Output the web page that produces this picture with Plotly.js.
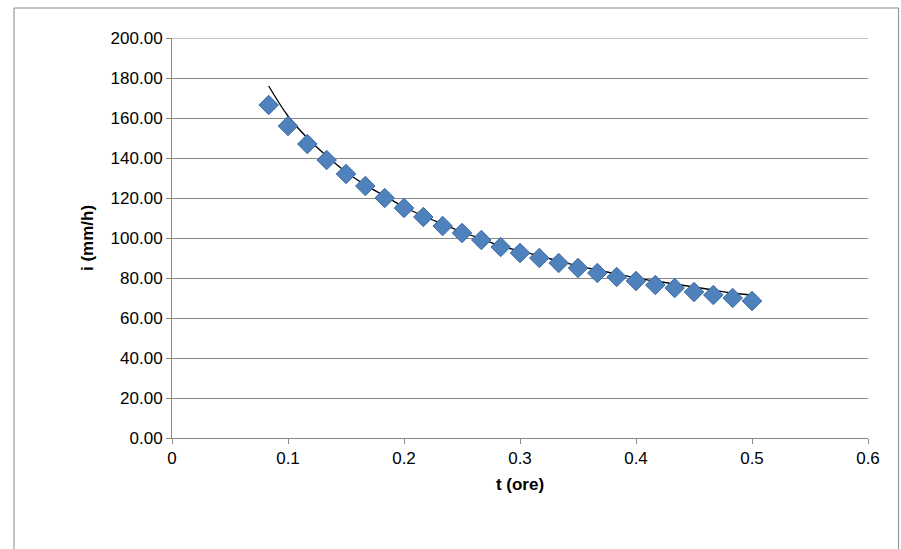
<!DOCTYPE html>
<html>
<head>
<script src="https://cdn.plot.ly/plotly-3.0.1.min.js"></script>
<style>body{margin:0;} #chart{width:901px;height:549px;}</style>
</head>
<body>
<div id="chart"></div>
<script>
// t in hours (5..30 minutes), intensity in mm/h
var tOre = [5,6,7,8,9,10,11,12,13,14,15,16,17,18,19,20,21,22,23,24,25,26,27,28,29,30].map(function(m){ return m / 60; });
var intensity = [166.5,156,147,139,132,126,120,115,110.5,106,102.5,99,95.5,92.5,90,87.5,85,82.5,80.5,78.5,76.5,75,73,71.5,70,68.5];
var trend = [176,161,150,141,133,126.5,121,115.5,111,107,103,99.5,96,93.5,91,88.5,86,84,82,80,78.5,77,75.5,74,72.5,71.5];

var font = {family: 'Liberation Sans, Arial, sans-serif', size: 17, color: 'black'};

var traceData = {
    x: tOre,
    y: intensity,
    mode: 'markers',
    marker: {symbol: 'diamond', color: '#4F81BD', size: 15, line: {color: '#3C6A9F', width: 1}},
    type: 'scatter'
};
var traceTrend = {
    x: tOre,
    y: trend,
    mode: 'lines',
    line: {color: 'black', width: 1.3, shape: 'spline'},
    type: 'scatter'
};

var layout = {
    showlegend: false,
    margin: {l: 172, r: 33, t: 38, b: 111},
    font: font,
    xaxis: {
        range: [0, 0.6], dtick: 0.1, tickformat: '.1~f',
        showgrid: false, zeroline: false,
        showline: true, linecolor: '#888', ticks: 'outside', tickcolor: '#888', ticklen: 5,
        title: {text: '<b>t (ore)</b>', font: font, standoff: 10}
    },
    yaxis: {
        range: [0, 200], dtick: 20, tickformat: '.2f',
        showgrid: true, gridcolor: '#888', zeroline: false,
        showline: true, linecolor: '#888', ticks: 'outside', tickcolor: '#888', ticklen: 5,
        title: {text: '<b>i (mm/h)</b>', font: font, standoff: 12}
    },
    plot_bgcolor: 'white',
    paper_bgcolor: 'white',
    shapes: [
        {type: 'line', xref: 'paper', yref: 'y', x0: 0, x1: 1, y0: 200, y1: 200, line: {color: '#888', width: 1}},
        {type: 'rect', xref: 'paper', yref: 'paper', x0: -0.227, x1: 1.044, y0: -0.3, y1: 1.075,
        line: {color: '#888', width: 1}}]
};

Plotly.newPlot('chart', [traceTrend, traceData], layout, {displayModeBar: false});
</script>
</body>
</html>
